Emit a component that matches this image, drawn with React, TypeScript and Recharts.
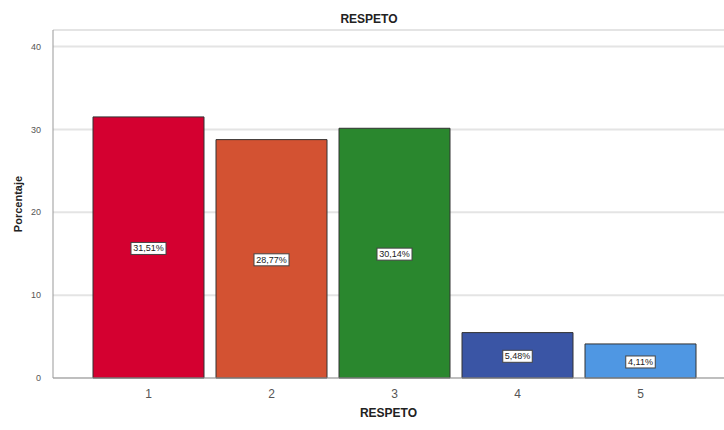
import React from "react";
import { BarChart, Bar, XAxis, YAxis, CartesianGrid, Cell, LabelList, Label } from "recharts";

const categories = ["1", "2", "3", "4", "5"];
const percentages = [31.51, 28.77, 30.14, 5.48, 4.11];
const barColors = ["#D40030", "#D35232", "#2A872E", "#3A55A5", "#4F97E3"];
const yTicks = [0, 10, 20, 30, 40];

const data = categories.map((c, i) => ({ category: c, value: percentages[i] }));

const fmt = (v: number) => v.toFixed(2).replace(".", ",") + "%";

function BoxLabel(props: any) {
  const { x, y, width, height, value } = props;
  const cx = x + width / 2;
  const cy = y + height / 2 + 1;
  const text = fmt(value);
  const w = text.length * 5.5 + 2;
  return (
    <g>
      <rect x={cx - w / 2} y={cy - 6} width={w} height={12} fill="#fff" stroke="#444" strokeWidth={1} />
      <text x={cx} y={cy + 3} textAnchor="middle" fontSize={9} fill="#222" fontFamily="Liberation Sans, Arial, sans-serif">
        {text}
      </text>
    </g>
  );
}

export default function App() {
  return (
    <div style={{ position: "absolute", left: 0, top: 0, width: 724, height: 430, background: "#fff", fontFamily: "Liberation Sans, Arial, sans-serif" }}>
      <div style={{ position: "absolute", top: 12, left: 0, width: 738, textAlign: "center", fontSize: 12, fontWeight: "bold", color: "#222" }}>
        RESPETO
      </div>
      <BarChart width={724} height={430} data={data} margin={{ top: 30, right: 0, left: 0, bottom: 22 }} barCategoryGap={6}>
        <CartesianGrid vertical={false} stroke="#e4e4e4" strokeWidth={2} />
        <XAxis
          dataKey="category"
          padding={{ left: 34, right: 22 }}
          tickLine={false}
          axisLine={{ stroke: "#999" }}
          tick={{ fontSize: 12, fill: "#555" }}
          tickMargin={5}
        >
          <Label value="RESPETO" position="bottom" offset={0} style={{ fontSize: 12, fontWeight: "bold", fill: "#222" }} />
        </XAxis>
        <YAxis
          width={53}
          domain={[0, 42]}
          ticks={yTicks}
          tickLine={false}
          axisLine={{ stroke: "#999" }}
          tick={{ fontSize: 9, fill: "#555" }}
          tickMargin={6}
        >
          <Label value="Porcentaje" angle={-90} position="insideLeft" offset={18} style={{ fontSize: 11, fontWeight: "bold", fill: "#222", textAnchor: "middle" }} />
        </YAxis>
        <Bar dataKey="value" stroke="#333" strokeWidth={1} isAnimationActive={false}>
          {data.map((d, i) => (
            <Cell key={d.category} fill={barColors[i]} />
          ))}
          <LabelList dataKey="value" content={BoxLabel} />
        </Bar>
      </BarChart>
    </div>
  );
}
